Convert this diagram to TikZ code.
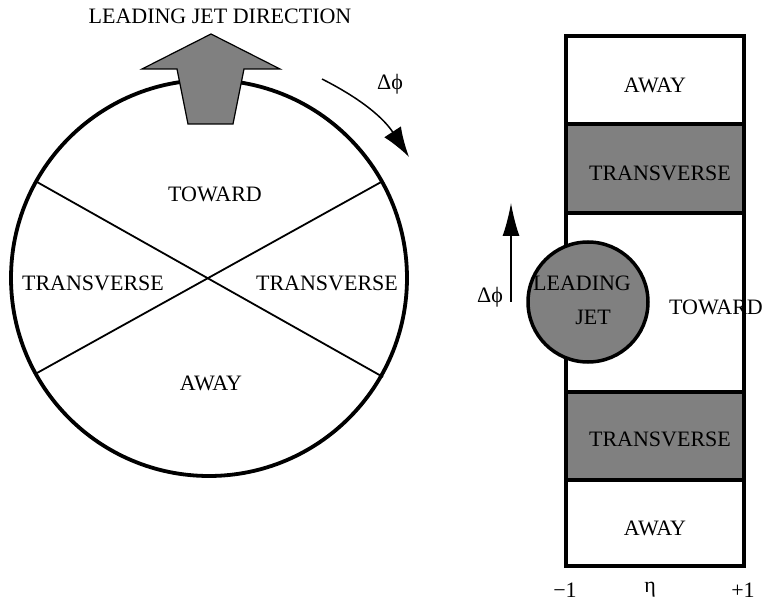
\documentclass[tikz,border=0pt]{standalone}
\usepackage{fontspec}
\setmainfont{Liberation Serif}
\usetikzlibrary{arrows.meta}
\begin{document}
\begin{tikzpicture}[x=1pt,y=-1pt,
  font=\fontsize{22}{26}\selectfont,
  lbl/.style={inner sep=0pt, anchor=center},
  chord/.style={line width=1.8pt},
  thinarrow/.style={line width=1.5pt},
  band/.style={draw, line width=4pt, inner sep=0pt, minimum width=178pt},
  grayband/.style={band, fill=black!50},
  ring/.style={draw, circle, inner sep=0pt, line width=3.8pt}
]
\useasboundingbox (0,0) rectangle (764,604);

% ---- left: azimuthal view ----
\node[ring, minimum size=396pt] (big) at (209,278) {};
\coordinate (ul) at (37,182);
\coordinate (lr) at (383,377);
\coordinate (ll) at (37,373);
\coordinate (ur) at (383,181);
\draw[chord] (ul) -- (lr);
\draw[chord] (ll) -- (ur);

% leading jet direction arrow
\draw[fill=black!50, line width=1.2pt, line join=miter]
  (211,34) -- (280,69) -- (244,69) -- (233,124) -- (188,124) -- (177,69) -- (142,69) -- cycle;
\node[lbl] (title) at (220,16) {LEADING JET DIRECTION};

% delta phi arc arrow
\coordinate (arcs) at (322,79);
\coordinate (arce) at (409,157);
\draw[thinarrow, -{Latex[length=30pt,width=20pt]}] (arcs) to[bend left=15] (arce);
\node[lbl] (dphi1) at (390,84) {Δϕ};

\node[lbl] (toward) at (215,194) {TOWARD};
\node[lbl] (transl) at (93,283) {TRANSVERSE};
\node[lbl] (transr) at (327,283) {TRANSVERSE};
\node[lbl] (away) at (211,383) {AWAY};

% ---- right: eta-phi view ----
\node[band, minimum height=88pt] (a1) at (655,80) {};
\node[grayband, minimum height=89pt] (t1) at (655,168.5) {};
\node[band, minimum height=179pt] (tw) at (655,302.5) {};
\node[grayband, minimum height=88pt] (t2) at (655,436) {};
\node[band, minimum height=86pt] (a2) at (655,523) {};

\node[lbl] (awayA) at (655,85) {AWAY};
\node[lbl] (transA) at (660,173) {TRANSVERSE};
\node[lbl] (transB) at (660,439) {TRANSVERSE};
\node[lbl] (awayB) at (655,528) {AWAY};

\node[ring, fill=black!50, minimum size=120pt, line width=3.5pt] (jet) at (588,302) {};
\node[lbl] (lead) at (582,283) {LEADING};
\node[lbl] (jettxt) at (593,317) {JET};
\node[lbl] (towardR) at (716,307) {TOWARD};

\coordinate (upA) at (511,302);
\coordinate (upB) at (511,203);
\draw[thinarrow, -{Latex[length=33pt,width=17pt]}] (upA) -- (upB);
\node[lbl] (dphi2) at (490,297) {Δϕ};

\node[lbl] (m1) at (565,590) {−1};
\node[lbl] (eta) at (650,590) {η};
\node[lbl] (p1) at (743,590) {+1};
\end{tikzpicture}
\end{document}
